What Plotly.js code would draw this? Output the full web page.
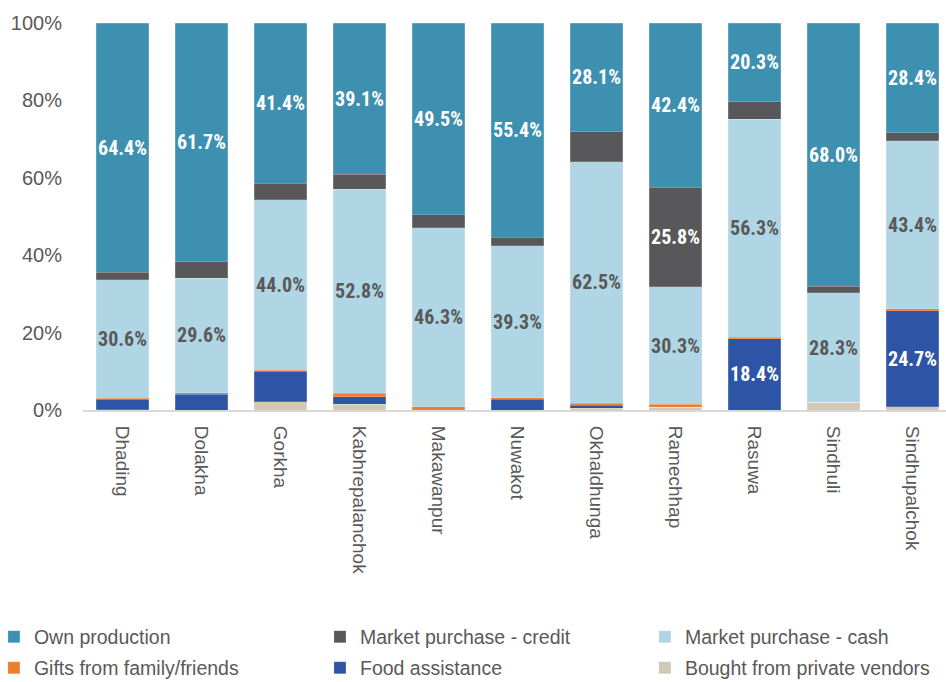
<!DOCTYPE html>
<html>
<head>
<meta charset="utf-8">
<script src="https://cdn.plot.ly/plotly-3.0.1.min.js"></script>
<style>
html,body{margin:0;padding:0;overflow:hidden;background:#fff;}
#chart{width:1000px;height:682px;}
</style>
</head>
<body>
<div id="chart"></div>
<script>
const districts = ["Dhading","Dolakha","Gorkha","Kabhrepalanchok","Makawanpur","Nuwakot","Okhaldhunga","Ramechhap","Rasuwa","Sindhuli","Sindhupalchok"];
const privateVendors = [0.1, 0.0, 2.1, 1.5, 0.0, 0.0, 0.5, 0.7, 0.0, 2.0, 0.9];
const foodAssistance = [2.7, 4.1, 7.9, 1.9, 0.0, 2.8, 0.7, 0.0, 18.4, 0.0, 24.7];
const gifts          = [0.3, 0.4, 0.3, 0.9, 0.8, 0.4, 0.5, 0.8, 0.4, 0.0, 0.6];
const marketCash     = [30.6, 29.6, 44.0, 52.8, 46.3, 39.3, 62.5, 30.3, 56.3, 28.3, 43.4];
const marketCredit   = [1.9, 4.2, 4.3, 3.8, 3.4, 2.1, 7.7, 25.8, 4.6, 1.7, 2.0];
const ownProduction  = [64.4, 61.7, 41.4, 39.1, 49.5, 55.4, 28.1, 42.4, 20.3, 68.0, 28.4];

const FONT = "'Liberation Sans', Arial, sans-serif";
const LABEL_FONT = "'Liberation Sans Narrow', 'Roboto Condensed', 'Liberation Sans', Arial, sans-serif";
const LABEL_MIN = 15;

function labels(vals){ return vals.map(v => v >= LABEL_MIN ? v.toFixed(1) + "%" : ""); }

function series(name, vals, color, textColor, legendId){
  return {
    type: "bar", name: name, x: districts, y: vals, legend: legendId,
    marker: {color: color, line: {color: "rgba(255,255,255,0.35)", width: 0.5}},
    text: labels(vals), textposition: "inside", insidetextanchor: "middle",
    textangle: 0, constraintext: "none",
    textfont: {family: LABEL_FONT, size: 20, color: textColor, weight: "bold"},
    hoverinfo: "skip"
  };
}

const traces = [
  series("Bought from private vendors", privateVendors, "#D1C9B6", "#595959", "legend6"),
  series("Food assistance", foodAssistance, "#2E55A5", "#FFFFFF", "legend5"),
  series("Gifts from family/friends", gifts, "#ED7D31", "#FFFFFF", "legend4"),
  series("Market purchase - cash", marketCash, "#B0D5E4", "#595959", "legend3"),
  series("Market purchase - credit", marketCredit, "#58585A", "#FFFFFF", "legend2"),
  series("Own production", ownProduction, "#3E90B1", "#FFFFFF", "legend")
];

function leg(x, y){
  return {
    orientation: "h", x: x, xanchor: "left", y: y, yanchor: "middle",
    font: {family: FONT, size: 19.5, color: "#595959"},
    itemwidth: 30, bgcolor: "rgba(0,0,0,0)", borderwidth: 0
  };
}
const colX = [-0.1025, 0.2727, 0.6466];
const rowY = [-0.5866, -0.6667];

const layout = {
  width: 1000, height: 682,
  margin: {l: 83, r: 48, t: 23, b: 272, autoexpand: false},
  barmode: "stack",
  bargap: 0.33,
  paper_bgcolor: "#fff", plot_bgcolor: "#fff",
  showlegend: true,
  font: {family: FONT, color: "#595959"},
  xaxis: {
    type: "category", tickangle: 90, showgrid: false, automargin: false,
    showline: true, linecolor: "#D9D9D9", linewidth: 2,
    ticks: "", ticklabelstandoff: 10,
    tickfont: {family: FONT, size: 19, color: "#595959"}
  },
  yaxis: {
    range: [0, 100], tickvals: [0,20,40,60,80,100], ticktext: ["0%","20%","40%","60%","80%","100%"],
    showgrid: false, zeroline: false, showline: false, ticks: "", automargin: false,
    ticklabelstandoff: 20,
    tickfont: {family: FONT, size: 20, color: "#595959"}
  },
  legend:  leg(colX[0], rowY[0]),
  legend2: leg(colX[1], rowY[0]),
  legend3: leg(colX[2], rowY[0]),
  legend4: leg(colX[0], rowY[1]),
  legend5: leg(colX[1], rowY[1]),
  legend6: leg(colX[2], rowY[1])
};

Plotly.newPlot("chart", traces, layout, {displayModeBar: false, staticPlot: true});
</script>
</body>
</html>
